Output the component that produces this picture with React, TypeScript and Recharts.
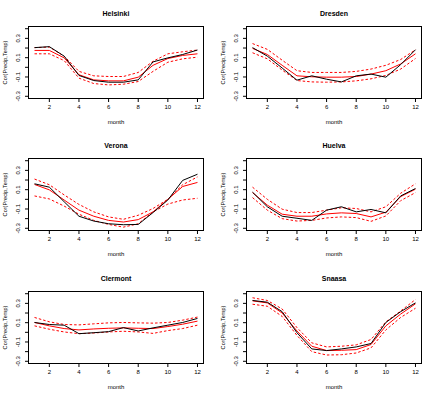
import React from "react"
import { LineChart, Line, XAxis, YAxis } from "recharts"

const months = [1, 2, 3, 4, 5, 6, 7, 8, 9, 10, 11, 12]
const monthTicks = [2, 4, 6, 8, 10, 12]
const corTicks = [-0.3, -0.2, -0.1, 0, 0.1, 0.2, 0.3, 0.4]
const corLabels = ["-0.3", "-0.1", "0.1", "0.3"]

// observed correlation, fitted curve and its band, per station
const helsinkiObs = [0.204, 0.214, 0.116, -0.084, -0.137, -0.154, -0.154, -0.13, 0.056, 0.098, 0.133, 0.179]
const helsinkiFit = [0.175, 0.175, 0.098, -0.077, -0.13, -0.14, -0.14, -0.102, 0.021, 0.091, 0.123, 0.14]
const helsinkiHi = [0.204, 0.21, 0.116, -0.042, -0.088, -0.095, -0.095, -0.053, 0.063, 0.14, 0.161, 0.179]
const helsinkiLo = [0.14, 0.14, 0.07, -0.112, -0.168, -0.182, -0.175, -0.147, -0.042, 0.053, 0.088, 0.105]

const dresdenObs = [0.204, 0.116, -0.007, -0.133, -0.088, -0.123, -0.151, -0.088, -0.07, -0.102, 0.028, 0.182]
const dresdenFit = [0.196, 0.133, 0.021, -0.088, -0.098, -0.102, -0.102, -0.095, -0.07, -0.035, 0.035, 0.14]
const dresdenHi = [0.246, 0.186, 0.074, -0.035, -0.053, -0.053, -0.053, -0.042, -0.018, 0.021, 0.081, 0.182]
const dresdenLo = [0.151, 0.088, -0.028, -0.137, -0.151, -0.154, -0.151, -0.14, -0.119, -0.084, -0.018, 0.091]

const veronaObs = [0.161, 0.126, -0.025, -0.175, -0.225, -0.253, -0.263, -0.26, -0.137, -0.007, 0.196, 0.26]
const veronaFit = [0.154, 0.098, -0.007, -0.112, -0.175, -0.218, -0.235, -0.21, -0.13, 0, 0.133, 0.175]
const veronaHi = [0.21, 0.151, 0.046, -0.053, -0.13, -0.182, -0.207, -0.165, -0.095, 0, 0.151, 0.232]
const veronaLo = [0.035, 0.004, -0.07, -0.154, -0.218, -0.26, -0.288, -0.253, -0.13, -0.049, -0.007, 0.011]

const huelvaObs = [0.074, -0.077, -0.175, -0.196, -0.218, -0.112, -0.077, -0.13, -0.105, -0.14, 0.035, 0.112]
const huelvaFit = [0.07, -0.06, -0.154, -0.175, -0.175, -0.151, -0.14, -0.147, -0.182, -0.133, 0.028, 0.105]
const huelvaHi = [0.126, 0, -0.102, -0.137, -0.137, -0.112, -0.088, -0.095, -0.13, -0.077, 0.063, 0.161]
const huelvaLo = [0.018, -0.112, -0.2, -0.225, -0.218, -0.193, -0.182, -0.189, -0.228, -0.172, -0.014, 0.07]

const clermontObs = [0.102, 0.081, 0.074, -0.014, -0.004, 0.007, 0.049, 0.014, 0.046, 0.074, 0.102, 0.144]
const clermontFit = [0.102, 0.067, 0.039, 0.025, 0.035, 0.042, 0.046, 0.042, 0.039, 0.06, 0.084, 0.116]
const clermontHi = [0.154, 0.109, 0.081, 0.077, 0.088, 0.098, 0.102, 0.098, 0.095, 0.102, 0.126, 0.158]
const clermontLo = [0.067, 0.032, 0.004, -0.014, -0.007, 0.004, 0.011, 0.004, -0.011, 0.018, 0.039, 0.074]

const snaasaObs = [0.33, 0.312, 0.214, -0.004, -0.172, -0.189, -0.172, -0.151, -0.116, 0.102, 0.214, 0.305]
const snaasaFit = [0.326, 0.305, 0.2, 0.014, -0.144, -0.189, -0.186, -0.179, -0.126, 0.067, 0.189, 0.295]
const snaasaHi = [0.358, 0.33, 0.242, 0.049, -0.109, -0.151, -0.144, -0.13, -0.074, 0.109, 0.221, 0.34]
const snaasaLo = [0.291, 0.27, 0.165, -0.032, -0.2, -0.235, -0.232, -0.214, -0.161, 0.025, 0.154, 0.249]

const stations = [
  { name: "Helsinki", obs: helsinkiObs, fit: helsinkiFit, hi: helsinkiHi, lo: helsinkiLo },
  { name: "Dresden", obs: dresdenObs, fit: dresdenFit, hi: dresdenHi, lo: dresdenLo },
  { name: "Verona", obs: veronaObs, fit: veronaFit, hi: veronaHi, lo: veronaLo },
  { name: "Huelva", obs: huelvaObs, fit: huelvaFit, hi: huelvaHi, lo: huelvaLo },
  { name: "Clermont", obs: clermontObs, fit: clermontFit, hi: clermontHi, lo: clermontLo },
  { name: "Snaasa", obs: snaasaObs, fit: snaasaFit, hi: snaasaHi, lo: snaasaLo },
]

const FONT = "'Liberation Sans', Arial, Helvetica, sans-serif"
const W = 218
const H = 132

// R only labels every other tick on the y axis, rotated
function CorTick(props: any) {
  const { x, y, payload } = props
  const label = Number(payload.value).toFixed(1)
  if (!corLabels.includes(label)) return null
  return (
    <text x={x} y={y} transform={`rotate(-90 ${x} ${y})`} textAnchor="middle" fontSize={6} fontFamily={FONT} fill="#000">
      {label}
    </text>
  )
}

function Panel({ st, left, top }: { st: (typeof stations)[number]; left: number; top: number }) {
  const data = months.map((m, i) => ({ month: m, obs: st.obs[i], fit: st.fit[i], hi: st.hi[i], lo: st.lo[i] }))
  return (
    <div style={{ position: "absolute", left, top, width: W, height: H }}>
      <LineChart width={W} height={H} data={data} margin={{ top: 26, right: 14, bottom: 0, left: 0 }}>
        <XAxis
          dataKey="month"
          type="number"
          domain={[0.56, 12.44]}
          ticks={monthTicks}
          interval={0}
          allowDataOverflow
          axisLine={false}
          tickLine={{ stroke: "#000" }}
          tickSize={3}
          tickMargin={3}
          height={33}
          tick={{ fontSize: 6, fontFamily: FONT, fill: "#000" }}
        />
        <YAxis
          type="number"
          domain={[-0.328, 0.428]}
          ticks={corTicks}
          interval={0}
          allowDataOverflow
          axisLine={false}
          tickLine={{ stroke: "#000" }}
          tickSize={3}
          tickMargin={5}
          width={28}
          tick={<CorTick />}
        />
        <Line dataKey="hi" stroke="#ff0000" strokeWidth={1} strokeDasharray="2.5 2" dot={false} isAnimationActive={false} />
        <Line dataKey="lo" stroke="#ff0000" strokeWidth={1} strokeDasharray="2.5 2" dot={false} isAnimationActive={false} />
        <Line dataKey="fit" stroke="#ff0000" strokeWidth={1} dot={false} isAnimationActive={false} />
        <Line dataKey="obs" stroke="#000" strokeWidth={1} dot={false} isAnimationActive={false} />
      </LineChart>
      <svg width={W} height={H} style={{ position: "absolute", left: 0, top: 0, pointerEvents: "none" }}>
        <rect x={28.5} y={26.5} width={175} height={72} fill="none" stroke="#000" strokeWidth={1} />
        <text x={116} y={15.5} textAnchor="middle" fontSize={7} fontWeight="bold" fontFamily={FONT}>
          {st.name}
        </text>
        <text x={116} y={124} textAnchor="middle" fontSize={6} fontFamily={FONT}>
          month
        </text>
        <text x={6.5} y={62.5} transform="rotate(-90 6.5 62.5)" textAnchor="middle" fontSize={5.6} fontFamily={FONT}>
          Cor(Precip,Temp)
        </text>
      </svg>
    </div>
  )
}

const rowTops = [0, 132, 264.5]
const colLefts = [0, 218]

export default function App() {
  return (
    <div style={{ position: "absolute", left: 0, top: 0, width: 436, height: 397, background: "#fff" }}>
      {stations.map((st, i) => (
        <Panel key={st.name} st={st} left={colLefts[i % 2]} top={rowTops[Math.floor(i / 2)]} />
      ))}
    </div>
  )
}
